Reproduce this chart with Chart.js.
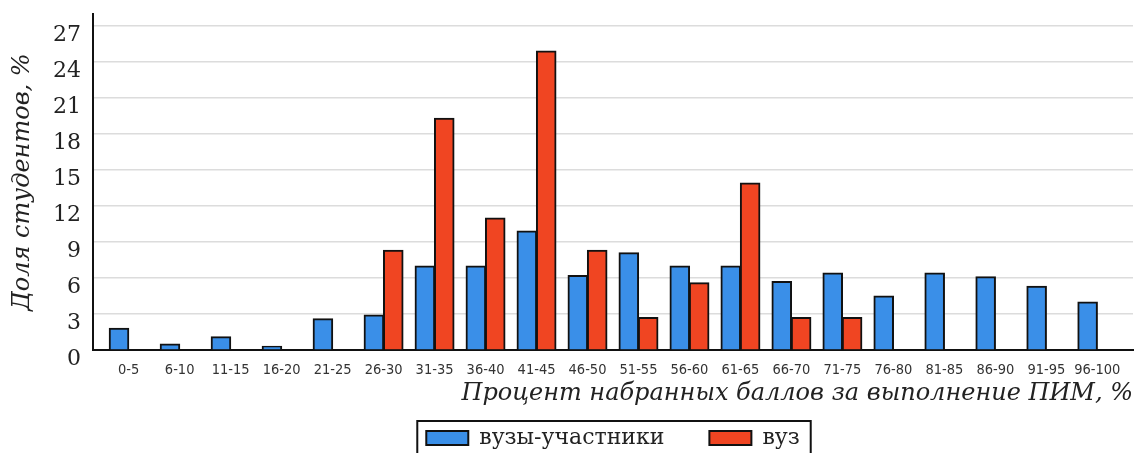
<!DOCTYPE html>
<html>
<head>
<meta charset="utf-8">
<script src="https://cdn.jsdelivr.net/npm/chart.js@4.4.1/dist/chart.umd.min.js"></script>
<style>
  html, body { margin: 0; padding: 0; background: #fff; }
  #wrap { width: 1135px; height: 453px; position: relative; }
</style>
</head>
<body>
<div id="wrap"><canvas id="chart"></canvas></div>
<script>
const categories = ['0-5', '6-10', '11-15', '16-20', '21-25', '26-30', '31-35', '36-40', '41-45', '46-50',
                    '51-55', '56-60', '61-65', '66-70', '71-75', '76-80', '81-85', '86-90', '91-95', '96-100'];
const participants = [1.8, 0.5, 1.1, 0.3, 2.6, 2.9, 7.0, 7.0, 9.9, 6.2, 8.1, 7.0, 7.0, 5.7, 6.4, 4.5, 6.4, 6.1, 5.3, 4.0];
const university = [0, 0, 0, 0, 0, 8.3, 19.3, 11.0, 24.9, 8.3, 2.7, 5.6, 13.9, 2.7, 2.7, 0, 0, 0, 0, 0];
const seriesNames = ['вузы-участники', 'вуз'];

const serif = "'DejaVu Serif', serif";

// legend sits under the plot area centre and gets a frame round it
const legendFrame = {
    id: 'legendFrame',
    afterLayout(chart) {
        const lg = chart.legend;
        const pad = lg.options.labels.padding;
        const w = lg.lineWidths[0] - pad;
        const mid = (chart.chartArea.left + chart.chartArea.right) / 2;
        lg.left = mid - w / 2 - pad;
        lg.top = 427 - pad;
    },
    afterDraw(chart) {
        const lg = chart.legend;
        const pad = lg.options.labels.padding;
        const x0 = lg.left + pad;
        const w = lg.lineWidths[0] - pad;
        const ctx = chart.ctx;
        ctx.save();
        ctx.strokeStyle = '#111';
        ctx.lineWidth = 2;
        ctx.strokeRect(x0 - 9, lg.top + pad - 6, w + 20, 60);
        ctx.restore();
    }
};

new Chart(document.getElementById('chart'), {
    type: 'bar',
    data: {
        datasets: [{
            label: seriesNames[0],
            data: participants.map((v, i) => ({ x: i, y: v })),
            backgroundColor: '#3a8fe8',
            borderColor: '#111',
            borderWidth: 2,
            inflateAmount: 0.6
        }, {
            label: seriesNames[1],
            data: university.map((v, i) => ({ x: i, y: v })),
            backgroundColor: '#f04522',
            borderColor: '#111',
            borderWidth: 2,
            inflateAmount: 0.6
        }]
    },
    options: {
        responsive: true,
        maintainAspectRatio: false,
        animation: false,
        categoryPercentage: 0.76,
        barPercentage: 1.0,
        layout: { padding: { top: 14, right: 2, left: 0, bottom: 0 } },
        scales: {
            x: {
                type: 'linear',
                min: -0.7,
                max: 19.7,
                offset: false,
                grid: { display: false },
                border: { display: true, color: '#111', width: 2 },
                ticks: {
                    stepSize: 1,
                    includeBounds: false,
                    autoSkip: false,
                    maxRotation: 0,
                    padding: 4,
                    color: '#333',
                    font: { family: "'DejaVu Sans Condensed', 'DejaVu Sans', sans-serif", size: 14.5 },
                    callback: (v) => categories[v]
                },
                title: {
                    display: true,
                    text: 'Процент набранных баллов за выполнение ПИМ, %',
                    align: 'end',
                    color: '#222',
                    font: { family: serif, size: 24, style: 'italic' },
                    padding: { top: 0, bottom: 13 }
                },
                afterFit: (s) => { s.height = 71; }
            },
            y: {
                min: 0,
                max: 28,
                grid: { color: '#dcdcdc', lineWidth: 1.5, drawTicks: false },
                border: { display: true, color: '#111', width: 2 },
                ticks: {
                    stepSize: 3,
                    includeBounds: false,
                    padding: 12,
                    labelOffset: 9,
                    color: '#222',
                    font: { family: serif, size: 22 }
                },
                title: {
                    display: true,
                    text: 'Доля студентов, %',
                    color: '#222',
                    font: { family: serif, size: 24, style: 'italic' },
                    padding: { top: 8, bottom: 0 }
                },
                afterFit: (s) => {
                    s.width = 93;
                    s.paddingTop = 0;
                    s.paddingBottom = 0;
                }
            }
        },
        plugins: {
            legend: {
                position: 'bottom',
                align: 'start',
                maxHeight: 32,
                labels: {
                    boxWidth: 42,
                    boxHeight: 14,
                    padding: 45,
                    color: '#222',
                    font: { family: serif, size: 22 }
                }
            },
            tooltip: { enabled: false }
        }
    },
    plugins: [legendFrame]
});
</script>
</body>
</html>
